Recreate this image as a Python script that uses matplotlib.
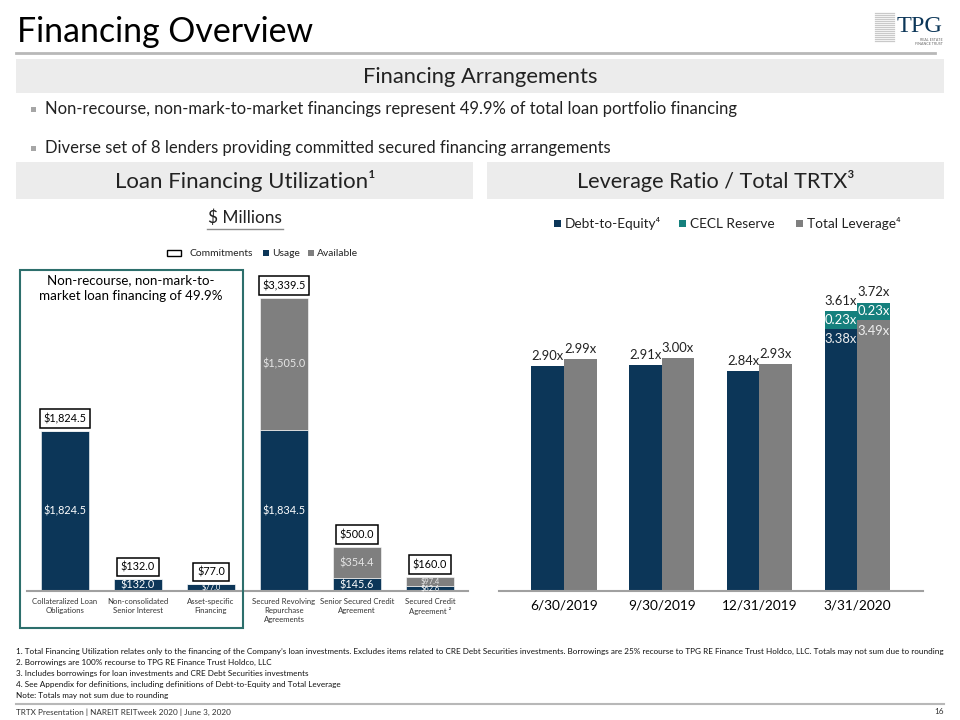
import matplotlib
matplotlib.use("Agg")
import matplotlib.pyplot as plt
from matplotlib.patches import Rectangle, Polygon
from matplotlib.lines import Line2D

# Canvas size in pixels
W, H = 960, 720
FONT = ["Lato", "DejaVu Sans"]
plt.rcParams["font.family"] = FONT

# Loan Financing Utilization ($ millions)
loan_categories = ["Collateralized Loan\nObligations",
                   "Non-consolidated\nSenior Interest",
                   "Asset-specific\nFinancing",
                   "Secured Revolving\nRepurchase\nAgreements",
                   "Senior Secured Credit\nAgreement",
                   "Secured Credit\nAgreement \u00b2"]
commitments = [1824.5, 132.0, 77.0, 3339.5, 500.0, 160.0]
usage       = [1824.5, 132.0, 77.0, 1834.5, 145.6, 62.6]
available   = [0.0, 0.0, 0.0, 1505.0, 354.4, 97.4]

# Leverage Ratio / Total TRTX
periods        = ["6/30/2019", "9/30/2019", "12/31/2019", "3/31/2020"]
debt_to_equity = [2.90, 2.91, 2.84, 3.38]
total_leverage = [2.99, 3.00, 2.93, 3.49]
cecl_reserve   = [0.0, 0.0, 0.0, 0.23]

footnotes = [
    "1. Total Financing Utilization relates only to the financing of the Company\u2019s loan investments. Excludes items related to CRE Debt Securities investments. Borrowings are 25% recourse to TPG RE Finance Trust Holdco, LLC. Totals may not sum due to rounding",
    "2. Borrowings are 100% recourse to TPG RE Finance Trust Holdco, LLC",
    "3. Includes borrowings for loan investments and CRE Debt Securities investments",
    "4. See Appendix for definitions, including definitions of Debt-to-Equity and Total Leverage",
    "Note: Totals may not sum due to rounding",
]

# Colours
NAVY  = "#0c3658"
GREY  = "#7f7f7f"
TEAL  = "#15807d"
BAND  = "#ececec"
INK   = "#222222"

fig = plt.figure(figsize=(W / 100, H / 100), dpi=100)


def fbox(x0, y0, x1, y1):
    return [x0 / W, 1 - y1 / H, (x1 - x0) / W, (y1 - y0) / H]


def put(x, y, s, size, **kw):
    kw.setdefault("color", INK)
    return fig.text(x / W, 1 - y / H, s, fontsize=size, **kw)


def rect(x0, y0, x1, y1, **kw):
    fig.add_artist(Rectangle((x0 / W, 1 - y1 / H), (x1 - x0) / W, (y1 - y0) / H,
                             transform=fig.transFigure, **kw))


def hline(x0, x1, y, **kw):
    fig.add_artist(Line2D([x0 / W, x1 / W], [1 - y / H, 1 - y / H],
                          transform=fig.transFigure, **kw))


# ---- header ----
put(17, 42, "Financing Overview", 24.4, va="baseline", color="black")
hline(16, 935, 53, color="#b8b8b8", lw=2)

# logo
for yy in range(13, 43, 2):
    hline(875, 894, yy, color="#c9c9c9", lw=0.9)
star = [(884, 27.5), (894, 21), (894, 34)]
fig.add_artist(Polygon([(x / W, 1 - y / H) for x, y in star], closed=True,
                       transform=fig.transFigure, facecolor="white", edgecolor="none"))
put(897, 32.5, "TPG", 17.5, va="baseline", color=NAVY, family="Liberation Serif")
put(943, 41, "REAL ESTATE", 2.6, ha="right", va="baseline", color="#666666")
put(943, 45, "FINANCE TRUST", 2.6, ha="right", va="baseline", color="#666666")

rect(16, 59, 944, 93, facecolor=BAND, edgecolor="none")
put(480, 83, "Financing Arrangements", 15.8, ha="center", va="baseline", color=INK)

bullets = ["Non-recourse, non-mark-to-market financings represent 49.9% of total loan portfolio financing",
           "Diverse set of 8 lenders providing committed secured financing arrangements"]
for yy, b in zip([114, 153], bullets):
    rect(30.5, yy - 7.5, 35.5, yy - 2.5, facecolor="#a6a6a6", edgecolor="none")
    put(45, yy, b, 12.0, va="baseline")

rect(16, 162, 473, 199, facecolor=BAND, edgecolor="none")
rect(487, 162, 944, 199, facecolor=BAND, edgecolor="none")
put(245, 188, "Loan Financing Utilization\u00b9", 16.0, ha="center", va="baseline")
put(716, 188, "Leverage Ratio / Total TRTX\u00b3", 15.6, ha="center", va="baseline")

put(245, 223, "$ Millions", 12.4, ha="center", va="baseline")
hline(207, 283, 228.5, color="#8c8c8c", lw=1)

# ---- left chart legend ----
rect(167, 250, 181, 256, facecolor="white", edgecolor="black", lw=1)
put(190, 253, "Commitments", 7.4, va="center")
rect(263, 250, 269, 256, facecolor=NAVY, edgecolor="none")
put(272, 253, "Usage", 7.4, va="center")
rect(308, 250, 314, 256, facecolor=GREY, edgecolor="none")
put(317, 253, "Available", 7.4, va="center")

# non-recourse box
rect(20, 270, 243, 628, facecolor="none", edgecolor="#2d6f6c", lw=1.5, zorder=5)
put(131, 288, "Non-recourse, non-mark-to-\nmarket loan financing of 49.9%", 9.6,
    ha="center", va="center", linespacing=1.4, color="black")

# ---- left chart ----
ax1 = fig.add_axes(fbox(27, 270, 468, 591))
ax1.set_facecolor("none")
xs = list(range(len(loan_categories)))
ax1.bar(xs, usage, width=0.66, color=NAVY, edgecolor="white", linewidth=0.4)
ax1.bar(xs, available, width=0.66, bottom=usage, color=GREY, edgecolor="white", linewidth=0.4)
ax1.set_xlim(-0.52, 5.52)
ax1.set_ylim(0, 3660)
for s in ["top", "left", "right"]:
    ax1.spines[s].set_visible(False)
ax1.spines["bottom"].set_color("#a0a0a0")
ax1.spines["bottom"].set_linewidth(1.5)
ax1.set_yticks([])
ax1.set_xticks(xs)
ax1.set_xticklabels(loan_categories, fontsize=5.6, color="#333333", linespacing=1.35)
ax1.tick_params(axis="x", length=0, pad=5)

for i in xs:
    ax1.annotate(f"${commitments[i]:,.1f}", xy=(i, commitments[i]), xytext=(0, 5),
                 textcoords="offset points", ha="center", va="bottom", fontsize=7.8,
                 color="black",
                 bbox=dict(boxstyle="square,pad=0.35", fc="white", ec="black", lw=1.1))
    fs = 7.8 if usage[i] >= 120 else 5.4
    ax1.text(i, usage[i] / 2, f"${usage[i]:,.1f}", ha="center", va="center",
             fontsize=fs, color="white")
    if available[i] > 0:
        fs = 7.8 if available[i] >= 120 else 5.4
        ax1.text(i, usage[i] + available[i] / 2, f"${available[i]:,.1f}", ha="center",
                 va="center", fontsize=fs, color="#e6e6e6")

# ---- right chart legend ----
leg = [(554, NAVY, "Debt-to-Equity\u2074"), (679, TEAL, "CECL Reserve"), (796, GREY, "Total Leverage\u2074")]
for lx, c, t in leg:
    rect(lx, 220, lx + 7, 227, facecolor=c, edgecolor="none")
    put(lx + 11, 223.5, t, 9.8, va="center")

# ---- right chart ----
ax2 = fig.add_axes(fbox(499, 270, 923, 591))
ax2.set_facecolor("none")
px = list(range(len(periods)))
bw = 0.333
de_x = [p - bw / 2 for p in px]
tl_x = [p + bw / 2 for p in px]
ax2.bar(de_x, debt_to_equity, width=bw, color=NAVY)
ax2.bar(de_x, cecl_reserve, width=bw, bottom=debt_to_equity, color=TEAL)
ax2.bar(tl_x, total_leverage, width=bw, color=GREY)
ax2.bar(tl_x, cecl_reserve, width=bw, bottom=total_leverage, color=TEAL)
ax2.set_xlim(-0.665, 3.675)
ax2.set_ylim(0, 4.14)
for s in ["top", "left", "right"]:
    ax2.spines[s].set_visible(False)
ax2.spines["bottom"].set_color("#a0a0a0")
ax2.spines["bottom"].set_linewidth(1.5)
ax2.set_yticks([])
ax2.set_xticks(px)
ax2.set_xticklabels(periods, fontsize=9.8, color="black")
ax2.tick_params(axis="x", length=0, pad=6)

for i in px:
    for bx, base in [(de_x[i], debt_to_equity[i]), (tl_x[i], total_leverage[i])]:
        top = base + cecl_reserve[i]
        ax2.annotate(f"{top:.2f}x", xy=(bx, top), xytext=(0, 4.5),
                     textcoords="offset points", ha="center", va="baseline",
                     fontsize=9.4, color=INK)
        if cecl_reserve[i] > 0:
            ax2.text(bx, base + cecl_reserve[i] / 2, f"{cecl_reserve[i]:.2f}x",
                     ha="center", va="center", fontsize=9.4, color="white")
            ax2.annotate(f"{base:.2f}x", xy=(bx, base), xytext=(0, -3),
                         textcoords="offset points", ha="center", va="top",
                         fontsize=9.4, color="#eeeeee")

# ---- footnotes ----
for k, t in enumerate(footnotes):
    put(16, 651 + k * 11.2, t, 5.9, va="center", color="#111111")

hline(16, 944, 704, color="#b8b8b8", lw=1.5)
put(16, 712, "TRTX Presentation | NAREIT REITweek 2020 | June 3, 2020", 5.9, va="center",
    color="#333333")
put(944, 712, "16", 5.9, ha="right", va="center", color="#333333")

fig.savefig("out.png", dpi=100)
